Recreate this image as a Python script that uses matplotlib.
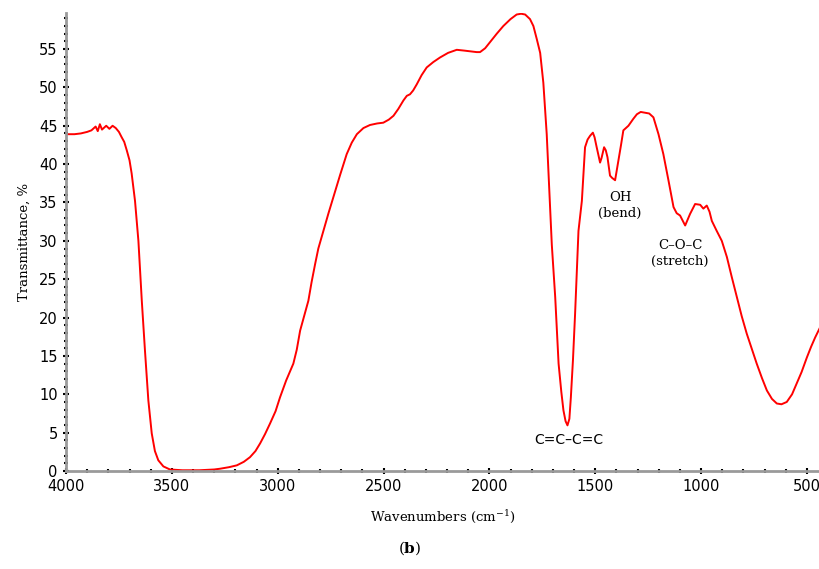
import matplotlib
matplotlib.use("Agg")
import matplotlib.pyplot as plt
from matplotlib.ticker import MultipleLocator

# FTIR spectrum
wavenumber = [4000, 3960, 3930, 3900, 3880, 3860, 3850, 3840, 3830, 3810, 3795, 3780,
              3765, 3750, 3737, 3725, 3713, 3700, 3690, 3674, 3658, 3642, 3627, 3611,
              3595, 3580, 3564, 3540, 3509, 3450, 3370, 3300, 3272, 3230, 3193, 3160,
              3131, 3105, 3083, 3060, 3036, 3010, 2989, 2960, 2926, 2910, 2894, 2875,
              2855, 2840, 2823, 2808, 2784, 2760, 2737, 2705, 2674, 2650, 2626, 2595,
              2564, 2530, 2501, 2475, 2453, 2430, 2406, 2390, 2375, 2360, 2343, 2320,
              2296, 2265, 2233, 2195, 2154, 2120, 2091, 2060, 2044, 2020, 1997, 1965,
              1934, 1900, 1871, 1850, 1831, 1808, 1792, 1776, 1760, 1745, 1729, 1716,
              1705, 1689, 1673, 1660, 1650, 1640, 1631, 1622, 1615, 1605, 1595, 1579,
              1563, 1548, 1536, 1524, 1511, 1503, 1493, 1477, 1470, 1458, 1450, 1442,
              1430, 1420, 1406, 1390, 1378, 1367, 1343, 1320, 1303, 1285, 1264, 1245,
              1225, 1201, 1178, 1154, 1130, 1115, 1099, 1075, 1052, 1028, 1004, 989,
              973, 960, 949, 926, 902, 878, 855, 831, 808, 784, 760, 737,
              712, 689, 665, 642, 620, 595, 570, 548, 525, 500, 480, 461, 438]
transmittance = [43.9, 43.9, 44.0, 44.2, 44.4, 44.9, 44.3, 45.2, 44.5, 45.0, 44.6, 45.0,
                 44.7, 44.2, 43.5, 42.9, 41.8, 40.5, 38.8, 35.2, 30.0, 22.2, 15.7, 9.2,
                 4.9, 2.6, 1.4, 0.6, 0.2, 0.1, 0.1, 0.2, 0.3, 0.5, 0.74, 1.2,
                 1.8, 2.6, 3.6, 4.8, 6.2, 7.8, 9.6, 11.8, 14.0, 15.8, 18.3, 20.2,
                 22.2, 24.6, 27.0, 29.0, 31.3, 33.6, 35.7, 38.6, 41.3, 42.8, 43.9, 44.7,
                 45.1, 45.3, 45.4, 45.8, 46.3, 47.2, 48.3, 48.9, 49.1, 49.6, 50.4, 51.6,
                 52.6, 53.3, 53.9, 54.5, 54.9, 54.8, 54.7, 54.6, 54.6, 55.1, 55.9, 57.0,
                 58.0, 58.9, 59.5, 59.6, 59.5, 58.9, 58.0, 56.3, 54.5, 50.6, 43.9, 36.0,
                 29.5, 22.7, 14.0, 10.3, 7.9, 6.5, 5.95, 6.8, 9.6, 14.5, 20.5, 31.3,
                 35.2, 42.2, 43.2, 43.7, 44.1, 43.5, 42.2, 40.2, 40.8, 42.2, 41.8, 40.9,
                 38.5, 38.2, 37.9, 40.5, 42.5, 44.4, 45.0, 45.9, 46.5, 46.8, 46.7, 46.6,
                 46.1, 43.9, 41.3, 37.9, 34.4, 33.6, 33.3, 32.0, 33.5, 34.8, 34.7, 34.2,
                 34.6, 33.8, 32.6, 31.3, 30.0, 27.9, 25.3, 22.7, 20.2, 17.9, 15.9, 14.0,
                 12.1, 10.5, 9.4, 8.8, 8.7, 9.0, 10.0, 11.4, 12.9, 14.8, 16.2, 17.4, 18.7]

peak_labels = ["C=C\u2013C=C", "OH\n(bend)", "C\u2013O\u2013C\n(stretch)"]
peak_pos = [(1627, 4.0), (1382, 34.6), (1099, 28.4)]

plt.rcParams['mathtext.fontset'] = 'dejavuserif'

fig = plt.figure(figsize=(8.2, 5.69), dpi=100)
ax = fig.add_axes([0.0805, 0.1722, 0.9195, 0.805])

ax.plot(wavenumber, transmittance, color='#ff0000', linewidth=1.4)

ax.set_xlim(4000, 438)
ax.set_ylim(0, 59.7)
ax.xaxis.set_major_locator(MultipleLocator(500))
ax.xaxis.set_minor_locator(MultipleLocator(100))
ax.yaxis.set_major_locator(MultipleLocator(5))
ax.yaxis.set_minor_locator(MultipleLocator(1))

for s in ['top', 'right']:
    ax.spines[s].set_visible(False)
for s in ['left', 'bottom']:
    ax.spines[s].set_color('#9a9a9a')
    ax.spines[s].set_linewidth(2)

ax.tick_params(which='major', direction='inout', length=4, width=1.5, color='black',
               labelsize=10.5, pad=4)
ax.tick_params(which='minor', direction='inout', length=2.5, width=1.5, color='black')

ax.set_xlabel('Wavenumbers (cm$^{-1}$)', family='DejaVu Serif', fontsize=9.5, labelpad=10)
ax.set_ylabel('Transmittance, %', family='DejaVu Serif', fontsize=9.5, labelpad=6)

ax.text(peak_pos[0][0], peak_pos[0][1], peak_labels[0], ha='center', va='center',
        fontsize=10)
for lab, (x, y) in zip(peak_labels[1:], peak_pos[1:]):
    ax.text(x, y, lab, ha='center', va='center', family='DejaVu Serif', fontsize=9.5,
            linespacing=1.3)

fig.text(0.5, 0.037, r'($\mathbf{b}$)', ha='center', va='center',
         family='DejaVu Serif', fontsize=11)

fig.savefig('out.png', dpi=100)
